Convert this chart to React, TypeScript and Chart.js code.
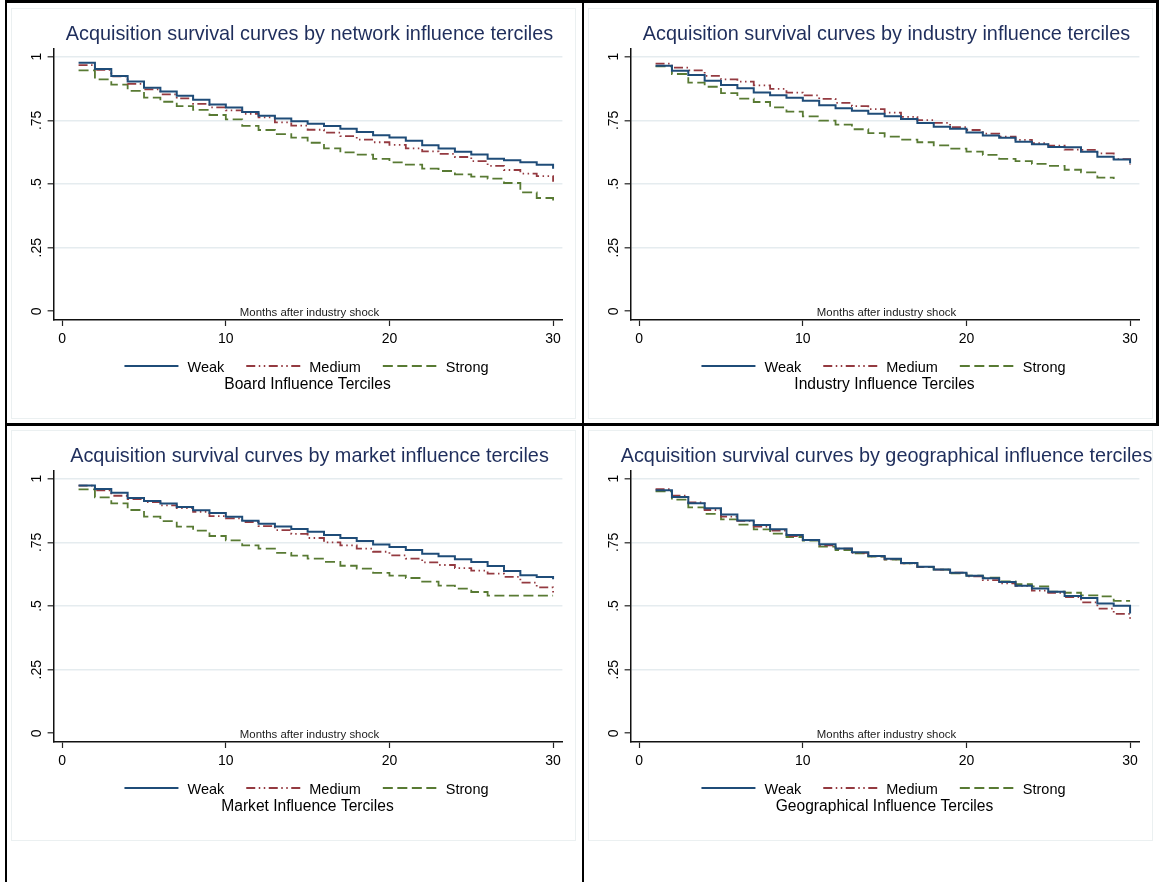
import React, { useEffect, useRef } from 'react';
import { Chart, registerables } from 'chart.js';

Chart.register(...registerables);

// ---------------- data ----------------
const months = [1, 2, 3, 4, 5, 6, 7, 8, 9, 10, 11, 12, 13, 14, 15, 16, 17, 18, 19, 20, 21, 22, 23, 24, 25, 26, 27, 28, 29, 30];

const seriesNames = ['Weak', 'Medium', 'Strong'];

const xTicks = [0, 10, 20, 30];
const xTickLabels = ['0', '10', '20', '30'];
const yTicks = [0, 0.25, 0.5, 0.75, 1];
const yTickLabels = ['0', '.25', '.5', '.75', '1'];

const xAxisTitle = 'Months after industry shock';

const titles = [
  'Acquisition survival curves by network influence terciles',
  'Acquisition survival curves by industry influence terciles',
  'Acquisition survival curves by market influence terciles',
  'Acquisition survival curves by geographical influence terciles',
];
const legendTitles = [
  'Board Influence Terciles',
  'Industry Influence Terciles',
  'Market Influence Terciles',
  'Geographical Influence Terciles',
];

// Board (network) influence
const boardWeak = [0.976, 0.952, 0.924, 0.903, 0.878, 0.863, 0.847, 0.831, 0.812, 0.800, 0.783, 0.768, 0.757, 0.746, 0.737, 0.728, 0.717, 0.704, 0.691, 0.683, 0.670, 0.652, 0.639, 0.627, 0.616, 0.599, 0.593, 0.585, 0.576, 0.560];
const boardMedium = [0.967, 0.948, 0.923, 0.893, 0.872, 0.852, 0.836, 0.815, 0.801, 0.789, 0.776, 0.762, 0.742, 0.729, 0.713, 0.702, 0.688, 0.674, 0.664, 0.654, 0.640, 0.628, 0.618, 0.606, 0.590, 0.571, 0.555, 0.541, 0.531, 0.509];
const boardStrong = [0.946, 0.911, 0.890, 0.866, 0.839, 0.823, 0.806, 0.791, 0.771, 0.754, 0.728, 0.712, 0.696, 0.682, 0.662, 0.640, 0.624, 0.615, 0.599, 0.585, 0.576, 0.560, 0.551, 0.538, 0.529, 0.521, 0.504, 0.467, 0.445, 0.421];

// Industry influence
const industryWeak = [0.964, 0.945, 0.928, 0.906, 0.889, 0.876, 0.859, 0.849, 0.839, 0.827, 0.809, 0.798, 0.788, 0.776, 0.766, 0.755, 0.740, 0.725, 0.717, 0.702, 0.690, 0.682, 0.666, 0.656, 0.645, 0.644, 0.627, 0.607, 0.596, 0.581];
const industryMedium = [0.973, 0.957, 0.946, 0.925, 0.911, 0.902, 0.887, 0.874, 0.859, 0.848, 0.834, 0.819, 0.806, 0.794, 0.780, 0.764, 0.751, 0.740, 0.723, 0.712, 0.698, 0.686, 0.673, 0.660, 0.651, 0.635, 0.634, 0.620, 0.598, 0.577];
const industryStrong = [0.962, 0.932, 0.898, 0.882, 0.857, 0.835, 0.822, 0.801, 0.784, 0.766, 0.749, 0.733, 0.715, 0.700, 0.686, 0.674, 0.664, 0.652, 0.639, 0.627, 0.614, 0.599, 0.590, 0.579, 0.571, 0.556, 0.546, 0.525, 0.520];

// Market influence
const marketWeak = [0.973, 0.960, 0.945, 0.924, 0.912, 0.903, 0.889, 0.876, 0.865, 0.851, 0.835, 0.823, 0.812, 0.802, 0.792, 0.779, 0.767, 0.755, 0.742, 0.732, 0.720, 0.705, 0.695, 0.684, 0.673, 0.657, 0.637, 0.621, 0.614, 0.605];
const marketMedium = [0.973, 0.954, 0.933, 0.920, 0.908, 0.895, 0.885, 0.870, 0.853, 0.844, 0.830, 0.814, 0.798, 0.783, 0.767, 0.750, 0.738, 0.725, 0.713, 0.699, 0.686, 0.671, 0.661, 0.649, 0.639, 0.627, 0.614, 0.592, 0.573, 0.552];
const marketStrong = [0.958, 0.927, 0.903, 0.877, 0.851, 0.833, 0.812, 0.796, 0.775, 0.758, 0.738, 0.725, 0.709, 0.698, 0.686, 0.673, 0.658, 0.647, 0.630, 0.619, 0.610, 0.596, 0.580, 0.568, 0.555, 0.541, 0.541, 0.541, 0.541, 0.541];

// Geographical influence
const geoWeak = [0.955, 0.928, 0.904, 0.884, 0.859, 0.836, 0.818, 0.801, 0.779, 0.759, 0.743, 0.726, 0.711, 0.696, 0.686, 0.669, 0.654, 0.643, 0.631, 0.619, 0.609, 0.594, 0.580, 0.569, 0.556, 0.539, 0.531, 0.510, 0.501, 0.471];
const geoMedium = [0.959, 0.933, 0.907, 0.877, 0.851, 0.834, 0.812, 0.796, 0.775, 0.759, 0.738, 0.725, 0.709, 0.695, 0.683, 0.668, 0.654, 0.643, 0.631, 0.616, 0.602, 0.589, 0.579, 0.560, 0.552, 0.535, 0.514, 0.490, 0.469, 0.448];
const geoStrong = [0.950, 0.918, 0.887, 0.862, 0.840, 0.820, 0.801, 0.784, 0.771, 0.757, 0.733, 0.720, 0.707, 0.694, 0.682, 0.668, 0.653, 0.643, 0.628, 0.619, 0.611, 0.597, 0.586, 0.577, 0.556, 0.552, 0.542, 0.538, 0.520, 0.520];

// ---------------- style ----------------
const FONT = '"Liberation Sans", Arial, Helvetica, sans-serif';
const TITLE_COLOR = '#1f2e5c';
const TEXT_COLOR = '#000000';
const GRID_COLOR = '#e5ecef';
const FRAME_COLOR = '#ebf0f1';
const SERIES_COLORS = ['#1f4c78', '#943a40', '#587a33'];
const SERIES_DASH: number[][] = [[], [9, 3.5, 1.5, 3.5, 1.5, 3.5], [10, 4.5]];
const SERIES_WIDTH = [2, 1.8, 1.8];

const CW = 577;
const CH = 422;
const PLOT_LEFT = 53.6;
const PLOT_RIGHT = 562.4;
const PLOT_TOP = 48.3;
const PLOT_BOTTOM = 320;
const Y_W = 20;
const X_H = 20;

const LEG_LINE = 54;
const LEG_GAP = 9;
const LEG_SEP = 22;

function makePlugin(title: string, legendTitle: string) {
  return {
    id: 'stataDecor',
    beforeDraw(chart: any) {
      const ctx = chart.ctx;
      ctx.save();
      ctx.strokeStyle = FRAME_COLOR;
      ctx.lineWidth = 1;
      ctx.strokeRect(11.5, 8.5, 564, 410);
      ctx.restore();
    },
    afterDraw(chart: any) {
      const { ctx, chartArea } = chart;
      const xs = chart.scales.x;
      const ys = chart.scales.y;
      const cx = (chartArea.left + chartArea.right) / 2;
      ctx.save();
      // title
      ctx.textAlign = 'center';
      ctx.textBaseline = 'alphabetic';
      ctx.fillStyle = TITLE_COLOR;
      ctx.font = `19.85px ${FONT}`;
      ctx.fillText(title, cx + 1.5, 40);

      // y tick labels (rotated)
      ctx.fillStyle = TEXT_COLOR;
      ctx.font = `14px ${FONT}`;
      ctx.textBaseline = 'middle';
      yTicks.forEach((v, i) => {
        const py = ys.getPixelForValue(v);
        ctx.save();
        ctx.translate(37, py);
        ctx.rotate(-Math.PI / 2);
        ctx.fillText(yTickLabels[i], 0, 0);
        ctx.restore();
      });

      // x tick labels
      ctx.textBaseline = 'alphabetic';
      xTicks.forEach((v, i) => {
        ctx.fillText(xTickLabels[i], xs.getPixelForValue(v), 342.5);
      });

      // x axis title (inside plot)
      ctx.fillStyle = '#1a1a1a';
      ctx.font = `11.4px ${FONT}`;
      ctx.fillText(xAxisTitle, cx + 1.5, 316);

      // legend
      ctx.fillStyle = TEXT_COLOR;
      ctx.font = `14.5px ${FONT}`;
      const dsets = chart.data.datasets;
      const widths = dsets.map((d: any) => ctx.measureText(d.label).width);
      const total = widths.reduce((a: number, w: number) => a + LEG_LINE + LEG_GAP + w, 0) + LEG_SEP * (dsets.length - 1);
      let lx = cx - 1.5 - total / 2;
      dsets.forEach((d: any, i: number) => {
        ctx.save();
        ctx.strokeStyle = d.borderColor;
        ctx.lineWidth = d.borderWidth;
        ctx.setLineDash(d.borderDash || []);
        ctx.beginPath();
        ctx.moveTo(lx, 366);
        ctx.lineTo(lx + LEG_LINE, 366);
        ctx.stroke();
        ctx.restore();
        ctx.textAlign = 'left';
        ctx.fillText(d.label, lx + LEG_LINE + LEG_GAP, 371.5);
        lx += LEG_LINE + LEG_GAP + widths[i] + LEG_SEP;
      });

      // legend title
      ctx.textAlign = 'center';
      ctx.font = `15.6px ${FONT}`;
      ctx.fillText(legendTitle, cx - 0.5, 388.5);
      ctx.restore();
    },
  };
}

function Panel(props: { left: number; top: number; title: string; legendTitle: string; series: number[][] }) {
  const ref = useRef<HTMLCanvasElement>(null);
  useEffect(() => {
    if (!ref.current) return;
    const datasets = props.series.map((vals, i) => ({
      label: seriesNames[i],
      data: vals.map((v, k) => ({ x: months[k], y: v })),
      borderColor: SERIES_COLORS[i],
      backgroundColor: SERIES_COLORS[i],
      borderWidth: SERIES_WIDTH[i],
      borderDash: SERIES_DASH[i],
      stepped: true,
      pointRadius: 0,
      fill: false,
      tension: 0,
    }));
    const chart = new Chart(ref.current, {
      type: 'line',
      data: { datasets } as any,
      options: {
        animation: false,
        responsive: false,
        maintainAspectRatio: false,
        layout: {
          padding: {
            left: PLOT_LEFT - Y_W,
            top: PLOT_TOP,
            right: CW - PLOT_RIGHT,
            bottom: CH - PLOT_BOTTOM - X_H,
          },
        },
        plugins: {
          legend: { display: false },
          title: { display: false },
          tooltip: { enabled: false },
        },
        scales: {
          x: {
            type: 'linear',
            min: -0.526,
            max: 30.57,
            afterBuildTicks: (s: any) => {
              s.ticks = xTicks.map((v) => ({ value: v }));
            },
            afterFit: (s: any) => {
              s.height = X_H;
            },
            ticks: { display: false },
            grid: {
              drawOnChartArea: false,
              drawTicks: true,
              tickLength: 6,
              tickColor: '#222',
              tickWidth: 1.2,
            },
            border: { display: true, color: '#111', width: 1.5 },
          },
          y: {
            type: 'linear',
            min: -0.0342,
            max: 1.033,
            afterBuildTicks: (s: any) => {
              s.ticks = yTicks.map((v) => ({ value: v }));
            },
            afterFit: (s: any) => {
              s.width = Y_W;
            },
            ticks: { display: false },
            grid: {
              color: (c: any) => (c.tick && c.tick.value === 0 ? 'rgba(0,0,0,0)' : GRID_COLOR),
              lineWidth: 1.6,
              drawTicks: true,
              tickLength: 6,
              tickColor: '#222',
              tickWidth: 1.2,
            },
            border: { display: true, color: '#111', width: 1.5 },
          },
        },
      } as any,
      plugins: [makePlugin(props.title, props.legendTitle)],
    });
    return () => chart.destroy();
  }, []);
  return (
    <canvas
      ref={ref}
      width={CW}
      height={CH}
      style={{ position: 'absolute', left: props.left, top: props.top, width: CW, height: CH, display: 'block' }}
    />
  );
}

const bar = (l: number, t: number, w: number, h: number) => (
  <div style={{ position: 'absolute', left: l, top: t, width: w, height: h, background: '#000' }} />
);

export default function App() {
  return (
    <div style={{ position: 'absolute', left: 0, top: 0, width: 1159, height: 882, background: '#fff', overflow: 'hidden' }}>
      <Panel left={0} top={0} title={titles[0]} legendTitle={legendTitles[0]} series={[boardWeak, boardMedium, boardStrong]} />
      <Panel left={577} top={0} title={titles[1]} legendTitle={legendTitles[1]} series={[industryWeak, industryMedium, industryStrong]} />
      <Panel left={0} top={422} title={titles[2]} legendTitle={legendTitles[2]} series={[marketWeak, marketMedium, marketStrong]} />
      <Panel left={577} top={422} title={titles[3]} legendTitle={legendTitles[3]} series={[geoWeak, geoMedium, geoStrong]} />
      {bar(5, 0, 1154, 3)}
      {bar(5, 0, 2, 882)}
      {bar(582, 0, 2, 882)}
      {bar(5, 423, 1154, 3)}
      {bar(1156, 0, 3, 426)}
    </div>
  );
}
